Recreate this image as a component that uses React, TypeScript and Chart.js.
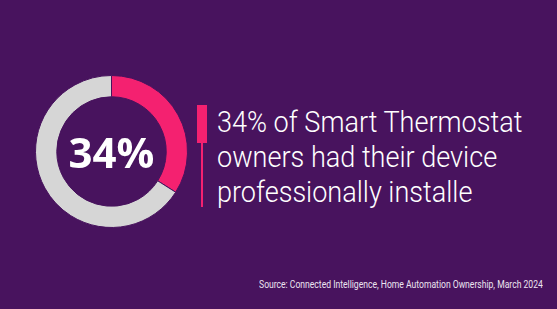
import React, { useEffect, useRef } from "react";
import { Chart, registerables } from "chart.js";
Chart.register(...registerables);

const categories = ["Professionally installed", "Not professionally installed"];
const values = [34, 66];
const centerLabel = "34%";
const headlineLines = [
  "34% of Smart Thermostat",
  "owners had their device",
  "professionally installe",
];
const sourceText =
  "Source: Connected Intelligence, Home Automation Ownership, March 2024";

const BG = "#48135e";
const PINK = "#f42170";
const GREY = "#d6d6d6";

export default function App() {
  const ref = useRef<HTMLCanvasElement | null>(null);

  useEffect(() => {
    document.body.style.margin = "0";
    if (!ref.current) return;
    const chart = new Chart(ref.current, {
      type: "doughnut",
      data: {
        labels: categories,
        datasets: [
          {
            data: values,
            backgroundColor: [PINK, GREY],
            borderColor: BG,
            borderWidth: 1,
          },
        ],
      },
      options: {
        responsive: false,
        animation: false,
        cutout: "72%",
        layout: { padding: 0 },
        plugins: { legend: { display: false }, tooltip: { enabled: false } },
      },
    });
    return () => chart.destroy();
  }, []);

  return (
    <div
      style={{
        position: "fixed",
        left: 0,
        top: 0,
        width: 557,
        height: 309,
        background: BG,
        overflow: "hidden",
        fontFamily: "Roboto, sans-serif",
      }}
    >
      <canvas
        ref={ref}
        width={153}
        height={153}
        style={{ position: "absolute", left: 35, top: 75, width: 153, height: 153 }}
      />
      <div
        style={{
          position: "absolute",
          left: 35,
          top: 75,
          width: 153,
          height: 153,
          display: "flex",
          alignItems: "center",
          justifyContent: "center",
          color: "#ffffff",
          fontFamily: "'Open Sans', sans-serif",
          fontWeight: 700,
          fontSize: 42,
          lineHeight: "42px",
        }}
      >
        {centerLabel}
      </div>
      <div style={{ position: "absolute", left: 197, top: 105, width: 10, height: 38, background: PINK }} />
      <div style={{ position: "absolute", left: 201, top: 105, width: 2, height: 102, background: PINK }} />
      <div
        style={{
          position: "absolute",
          left: 217,
          top: 104,
          color: "#ffffff",
          fontSize: 30,
          fontWeight: 300,
          lineHeight: "35px",
          whiteSpace: "pre",
          transform: "scaleX(0.902)",
          transformOrigin: "left top",
        }}
      >
        {headlineLines.join("\n")}
      </div>
      <div
        style={{
          position: "absolute",
          right: 14,
          top: 278,
          color: "#ece4f0",
          fontSize: 11,
          lineHeight: "13px",
          whiteSpace: "nowrap",
          transform: "scaleX(0.78)",
          transformOrigin: "right top",
        }}
      >
        {sourceText}
      </div>
    </div>
  );
}
